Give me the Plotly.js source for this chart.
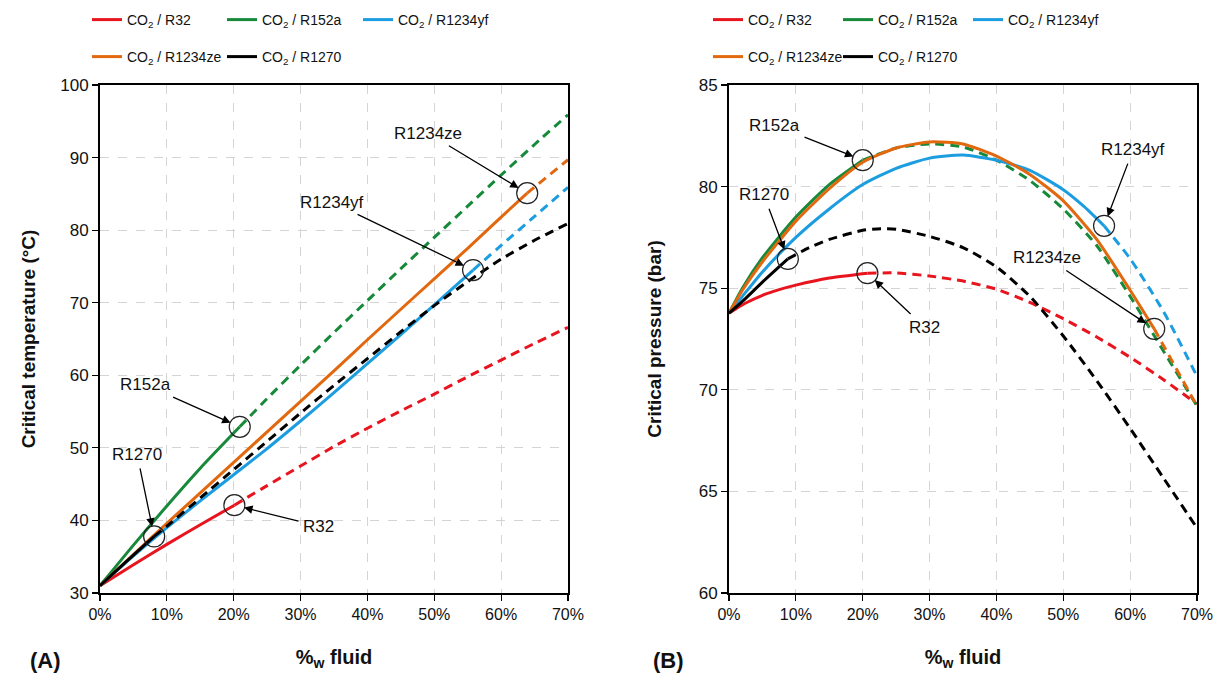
<!DOCTYPE html>
<html>
<head>
<meta charset="utf-8">
<script src="https://cdn.plot.ly/plotly-3.0.1.min.js"></script>
<style>
  html, body { margin: 0; padding: 0; background: #ffffff; }
  #chart { width: 1221px; height: 678px; }
</style>
</head>
<body>
<div id="chart"></div>
<script>
// Mixture labels and line colours (CO2 blended with each fluid)
const fluids = ['R32', 'R152a', 'R1234yf', 'R1234ze', 'R1270'];
const fluidColors = ['#e8141e', '#16893a', '#1c9de0', '#e2680f', '#000000'];

// Mass fraction (%) at which each curve switches from solid to dashed
const tempSplitX = [20.1, 20.9, 55.8, 63.9, 8.1];
const presSplitX = [20.7, 20.0, 56.1, 63.6, 8.8];

// (A) Critical temperature (°C) vs mass fraction of fluid (%)
const tempX_R32 = [0, 5, 10, 15, 20.1, 25, 30, 35, 40, 45, 50, 55, 60, 65, 70];
const temp_R32  = [31.0, 33.9, 36.7, 39.4, 42.1, 44.8, 47.5, 50.2, 52.7, 55.1, 57.4, 59.8, 62.1, 64.4, 66.6];

const tempX_R152a = [0, 5, 10, 15, 20.9, 25, 30, 35, 40, 45, 50, 55, 60, 65, 70];
const temp_R152a  = [31.0, 36.6, 42.0, 47.2, 52.9, 56.8, 61.4, 65.9, 70.3, 74.7, 79.0, 83.3, 87.6, 91.8, 95.9];

const tempX_R1234yf = [0, 5, 10, 15, 20, 25, 30, 35, 40, 45, 50, 55.8, 60, 65, 70];
const temp_R1234yf  = [31.0, 35.1, 39.0, 42.7, 46.3, 49.9, 53.7, 57.6, 61.6, 65.6, 69.7, 74.5, 77.9, 81.9, 85.9];

const tempX_R1234ze = [0, 5, 10, 15, 20, 25, 30, 35, 40, 45, 50, 55, 60, 63.9, 70];
const temp_R1234ze  = [31.0, 35.3, 39.6, 43.8, 48.0, 52.2, 56.4, 60.6, 64.9, 69.1, 73.3, 77.5, 81.8, 85.1, 89.7];

const tempX_R1270 = [0, 4, 8.1, 10, 15, 20, 25, 30, 35, 40, 45, 50, 55, 60, 65, 70];
const temp_R1270  = [31.0, 34.4, 37.8, 39.2, 43.1, 47.0, 50.9, 54.8, 58.6, 62.3, 66.0, 69.6, 72.9, 76.0, 78.6, 80.9];

// (B) Critical pressure (bar) vs mass fraction of fluid (%)
const presX_R32 = [0, 1, 2.5, 5, 7.5, 10, 15, 20.7, 25, 30, 35, 40, 45, 50, 55, 60, 65, 70];
const pres_R32  = [73.77, 73.98, 74.27, 74.65, 74.93, 75.15, 75.5, 75.74, 75.75, 75.6, 75.35, 74.95, 74.3, 73.5, 72.6, 71.6, 70.5, 69.3];

const presX_R152a = [0, 2, 5, 10, 15, 20, 25, 30, 35, 40, 45, 50, 55, 60, 65, 70];
const pres_R152a  = [73.77, 75.0, 76.5, 78.5, 80.1, 81.3, 81.9, 82.1, 81.95, 81.3, 80.3, 78.9, 77.1, 74.6, 71.9, 69.2];

const presX_R1234yf = [0, 2, 5, 10, 15, 20, 25, 30, 35, 40, 45, 50, 53, 56.1, 60, 65, 70];
const pres_R1234yf  = [73.77, 74.6, 75.8, 77.5, 78.9, 80.1, 80.9, 81.4, 81.55, 81.3, 80.8, 79.85, 79.05, 78.07, 76.45, 73.85, 70.66];

const presX_R1234ze = [0, 2, 5, 10, 15, 20, 25, 30, 35, 40, 45, 50, 55, 60, 63.6, 70];
const pres_R1234ze  = [73.77, 74.9, 76.3, 78.3, 79.9, 81.2, 81.9, 82.2, 82.1, 81.5, 80.6, 79.3, 77.4, 74.9, 73.0, 69.2];

const presX_R1270 = [0, 2, 5, 8.8, 12, 15, 20, 22.7, 25, 30, 35, 40, 45, 50, 55, 60, 65, 70];
const pres_R1270  = [73.77, 74.35, 75.3, 76.44, 77.0, 77.4, 77.85, 77.92, 77.9, 77.55, 77.0, 76.05, 74.6, 72.65, 70.45, 68.1, 65.65, 63.2];

// Axis ticks
const xTicks = [0, 10, 20, 30, 40, 50, 60, 70];
const xTickText = ['0%', '10%', '20%', '30%', '40%', '50%', '60%', '70%'];
const tempTicks = [30, 40, 50, 60, 70, 80, 90, 100];
const presTicks = [60, 65, 70, 75, 80, 85];

const tempXs = [tempX_R32, tempX_R152a, tempX_R1234yf, tempX_R1234ze, tempX_R1270];
const tempYs = [temp_R32, temp_R152a, temp_R1234yf, temp_R1234ze, temp_R1270];
const presXs = [presX_R32, presX_R152a, presX_R1234yf, presX_R1234ze, presX_R1270];
const presYs = [pres_R32, pres_R152a, pres_R1234yf, pres_R1234ze, pres_R1270];

const FONT = 'Liberation Sans, Arial, sans-serif';

// Build solid (computed region) and dashed (extrapolated) pieces of one curve
function curveTraces(xs, ys, split, color, name, xa, ya, legendId) {
  const sx = [], sy = [], dx = [], dy = [];
  xs.forEach((v, i) => {
    if (v <= split) { sx.push(v); sy.push(ys[i]); }
    if (v >= split) { dx.push(v); dy.push(ys[i]); }
  });
  const common = { mode: 'lines', xaxis: xa, yaxis: ya, hoverinfo: 'x+y' };
  return [
    Object.assign({}, common, {
      x: dx, y: dy, showlegend: false,
      line: { color: color, width: 3, dash: '9px,6px', shape: 'spline', smoothing: 0.6 }
    }),
    Object.assign({}, common, {
      x: sx, y: sy, name: 'CO<sub>2</sub> / ' + name, legend: legendId,
      line: { color: color, width: 3, shape: 'spline', smoothing: 0.6 }
    })
  ];
}

function splitPoint(xs, ys, split) {
  const i = xs.indexOf(split);
  return [xs[i], ys[i]];
}

// One legend per entry so the entries sit on a fixed grid above each panel
const legendIdsA = ['legend', 'legend2', 'legend3', 'legend4', 'legend5'];
const legendIdsB = ['legend6', 'legend7', 'legend8', 'legend9', 'legend10'];

const traces = [];
const tempMarks = [], presMarks = [];
for (let k = 0; k < fluids.length; k++) {
  traces.push(...curveTraces(tempXs[k], tempYs[k], tempSplitX[k], fluidColors[k], fluids[k], 'x', 'y', legendIdsA[k]));
  traces.push(...curveTraces(presXs[k], presYs[k], presSplitX[k], fluidColors[k], fluids[k], 'x2', 'y2', legendIdsB[k]));
  tempMarks.push(splitPoint(tempXs[k], tempYs[k], tempSplitX[k]));
  presMarks.push(splitPoint(presXs[k], presYs[k], presSplitX[k]));
}

// Open circles marking where each curve changes style
const circleStyle = { symbol: 'circle-open', size: 21, color: '#222222', line: { width: 1.2, color: '#222222' } };
traces.push({ x: tempMarks.map(p => p[0]), y: tempMarks.map(p => p[1]), mode: 'markers',
  xaxis: 'x', yaxis: 'y', marker: circleStyle, showlegend: false, hoverinfo: 'skip' });
traces.push({ x: presMarks.map(p => p[0]), y: presMarks.map(p => p[1]), mode: 'markers',
  xaxis: 'x2', yaxis: 'y2', marker: circleStyle, showlegend: false, hoverinfo: 'skip' });

// Label offsets (px) from each marked point to its text
const tempLabelOffsets = [[84, 21], [-94, -42], [-141, -68], [-99, -60], [-17, -82]];
const presLabelOffsets = [[57, 54], [-88, -35], [29, -76], [-107, -71], [-24, -64]];

const annotations = [];
function addLabels(marks, offsets, xa, ya) {
  marks.forEach((p, k) => {
    annotations.push({
      x: p[0], y: p[1], xref: xa, yref: ya,
      ax: offsets[k][0], ay: offsets[k][1], axref: 'pixel', ayref: 'pixel',
      text: fluids[k], showarrow: true,
      arrowhead: 2, arrowsize: 1.3, arrowwidth: 1.3, arrowcolor: '#000000',
      standoff: 10, startstandoff: 3,
      font: { family: FONT, size: 17, color: '#111111' }
    });
  });
}
addLabels(tempMarks, tempLabelOffsets, 'x', 'y');
addLabels(presMarks, presLabelOffsets, 'x2', 'y2');

// Panel letters
annotations.push({ text: '<b>(A)</b>', xref: 'paper', yref: 'paper', x: -0.05, y: -0.132,
  xanchor: 'center', yanchor: 'middle',
  showarrow: false, font: { family: FONT, size: 22, color: '#111111' } });
annotations.push({ text: '<b>(B)</b>', xref: 'paper', yref: 'paper', x: 0.518, y: -0.132,
  xanchor: 'center', yanchor: 'middle',
  showarrow: false, font: { family: FONT, size: 22, color: '#111111' } });

const xAxisBase = {
  range: [0, 70], tickvals: xTicks, ticktext: xTickText,
  showline: true, linecolor: '#000000', linewidth: 2, mirror: true,
  ticks: 'outside', ticklen: 6, tickcolor: '#000000', tickwidth: 1.2,
  showgrid: true, gridcolor: '#d4d4d4', gridwidth: 1, griddash: 'dash',
  zeroline: false,
  tickfont: { family: FONT, size: 16, color: '#111111' },
  title: { text: '%<sub>w</sub> fluid', standoff: 28,
    font: { family: FONT, size: 20, color: '#111111', weight: 'bold' } }
};
const yAxisBase = {
  showline: true, linecolor: '#000000', linewidth: 2, mirror: true,
  ticks: 'outside', ticklen: 6, tickcolor: '#000000', tickwidth: 1.2,
  showgrid: true, gridcolor: '#d4d4d4', gridwidth: 1, griddash: 'dash',
  zeroline: false,
  tickfont: { family: FONT, size: 17, color: '#111111' }
};

const legendBase = {
  orientation: 'h', xanchor: 'left', yanchor: 'middle',
  bgcolor: 'rgba(0,0,0,0)', borderwidth: 0,
  font: { family: FONT, size: 14, color: '#111111' },
  itemwidth: 30, itemclick: false, itemdoubleclick: false
};

// Legend grid positions (px from the left of the page, px from the top)
const legendColsA = [87, 222, 358];
const legendColsB = [708, 838, 968];
const legendRows = [20, 57];
const plotLeft = 100, plotTop = 85, plotW = 1097, plotH = 508;

const layout = {
  width: 1221, height: 678,
  margin: { l: 100, r: 24, t: 85, b: 85, autoexpand: false },
  paper_bgcolor: '#ffffff', plot_bgcolor: '#ffffff',
  showlegend: true,
  xaxis: Object.assign({}, xAxisBase, { domain: [0, 0.4266], anchor: 'y' }),
  yaxis: Object.assign({}, yAxisBase, { domain: [0, 1], anchor: 'x', range: [30, 100], tickvals: tempTicks,
    title: { text: 'Critical temperature (°C)', standoff: 20,
      font: { family: FONT, size: 19, color: '#111111', weight: 'bold' } } }),
  xaxis2: Object.assign({}, xAxisBase, { domain: [0.5734, 1], anchor: 'y2' }),
  yaxis2: Object.assign({}, yAxisBase, { domain: [0, 1], anchor: 'x2', range: [60, 85], tickvals: presTicks,
    title: { text: 'Critical pressure (bar)', standoff: 32,
      font: { family: FONT, size: 19, color: '#111111', weight: 'bold' } } }),
  annotations: annotations
};

for (let k = 0; k < fluids.length; k++) {
  const col = k % 3, row = k < 3 ? 0 : 1;
  const yPaper = (plotTop + plotH - legendRows[row]) / plotH;
  layout[legendIdsA[k]] = Object.assign({}, legendBase,
    { x: (legendColsA[col] - plotLeft) / plotW, y: yPaper });
  layout[legendIdsB[k]] = Object.assign({}, legendBase,
    { x: (legendColsB[col] - plotLeft) / plotW, y: yPaper });
}

Plotly.newPlot('chart', traces, layout, { displayModeBar: false, staticPlot: true });
</script>
</body>
</html>
